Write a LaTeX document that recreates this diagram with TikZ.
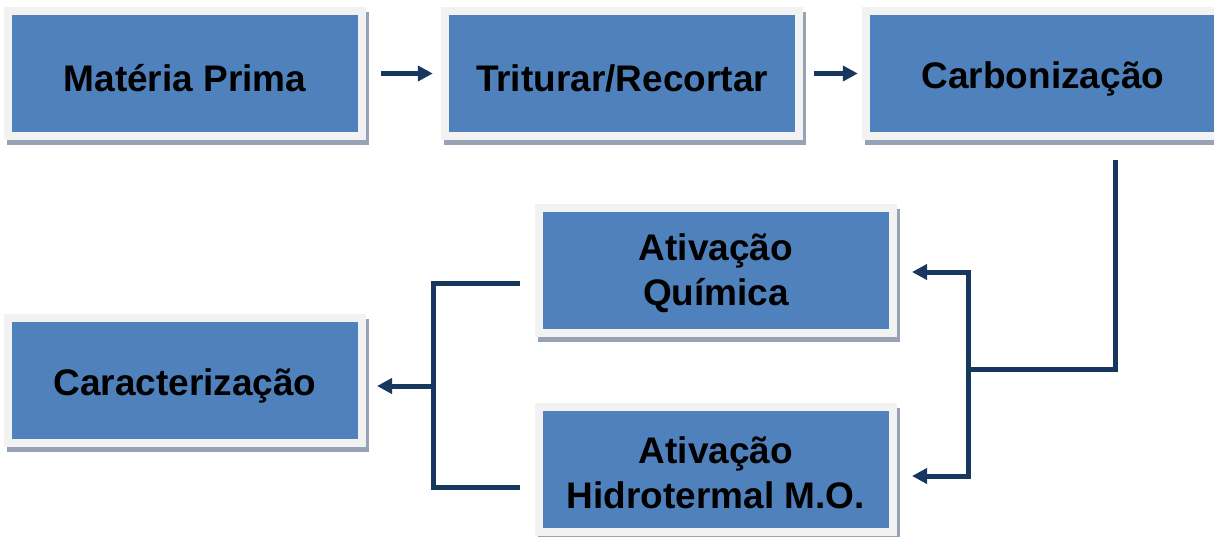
\documentclass[tikz,border=0pt]{standalone}
\usepackage{fontspec}
\setmainfont{Liberation Sans}
\usetikzlibrary{shadows,arrows.meta}
\definecolor{boxblue}{HTML}{4F81BD}
\definecolor{framegray}{HTML}{F2F2F2}
\definecolor{shadowgray}{HTML}{97A3B4}
\definecolor{linenavy}{HTML}{17375E}
\tikzset{
  stepbox/.style={rectangle, fill=framegray, minimum width=362pt, minimum height=133pt,
    inner sep=0pt,
    general shadow={fill=shadowgray, shadow xshift=3pt, shadow yshift=-5pt},
    path picture={\fill[boxblue] ([shift={(8pt,-8pt)}]path picture bounding box.north west)
      rectangle ([shift={(-8pt,8pt)}]path picture bounding box.south east);}},
  boxtext/.style={yshift=-5pt, inner sep=0pt, align=center, font=\bfseries\fontsize{37}{45}\selectfont},
  conn/.style={draw=linenavy, line width=5pt},
  arr/.style={conn, -{Triangle[length=15pt,width=15pt]}}
}
\begin{document}
\begin{tikzpicture}[x=1pt,y=-1pt]
\useasboundingbox (0,0) rectangle (1214,536);
\node[stepbox, label={[boxtext]center:{Matéria Prima}}] (mp) at (185,73.5) {};
\node[stepbox, label={[boxtext]center:{Triturar/Recortar}}] (tr) at (622,73.5) {};
\node[stepbox, label={[boxtext]center:{Carbonização}}] (cb) at (1043,73.5) {};
\node[stepbox, label={[boxtext, yshift=2pt]center:{Ativação\\Química}}] (aq) at (716,270.5) {};
\node[stepbox, label={[boxtext, yshift=2pt]center:{Ativação\\Hidrotermal M.O.}}] (ah) at (716,469.5) {};
\node[stepbox, label={[boxtext]center:{Caracterização}}] (ca) at (185,380.5) {};
\coordinate (cbout) at (1115,160);
\coordinate (jr) at (968,369);
\coordinate (aqin) at (912,272);
\coordinate (ahin) at (912,476);
\coordinate (aqout) at (520,283);
\coordinate (ahout) at (520,487);
\coordinate (jl) at (433,386);
\coordinate (cain) at (377,386);
\draw[arr] ([xshift=15pt]mp.east) -- ([xshift=-8pt]tr.west);
\draw[arr] ([xshift=11pt]tr.east) -- ([xshift=-4pt]cb.west);
\draw[conn] (cbout) |- (jr);
\draw[arr] (jr) |- (aqin);
\draw[arr] (jr) |- (ahin);
\draw[conn, line join=miter] (aqout) -| (jl) |- (ahout);
\draw[arr] (jl) -- (cain);
\end{tikzpicture}
\end{document}
